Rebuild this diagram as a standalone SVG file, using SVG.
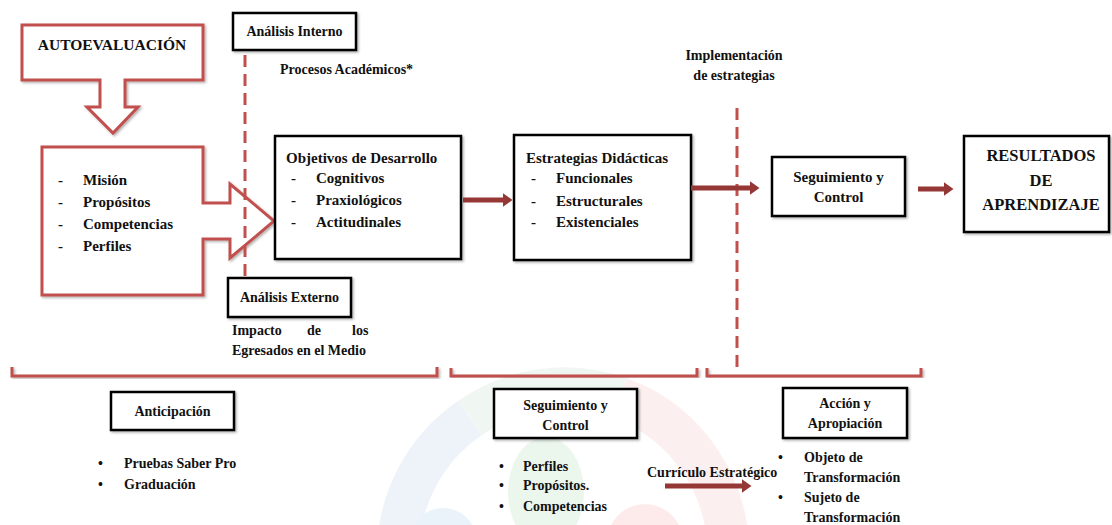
<svg xmlns="http://www.w3.org/2000/svg" width="1112" height="525" viewBox="0 0 1112 525">
<style>
  text { font-family: "Liberation Serif", "Times New Roman", serif; font-weight: bold; fill: #111; }
  .s14 { font-size: 14px; }
  .s15 { font-size: 15px; }
  .big { font-size: 16.5px; }
  .mid { text-anchor: middle; }
  .box { fill: #fff; stroke: #000; stroke-width: 2.5; filter: url(#sh); }
  .red { fill: #fff; stroke: #C0504D; stroke-width: 3; filter: url(#sh); }
  .brk { fill: none; stroke: #C0504D; stroke-width: 3; filter: url(#sh); }
  .dash { fill: none; stroke: #C0504D; stroke-width: 3; stroke-dasharray: 12 7; }
  .arr { fill: none; stroke: #953735; stroke-width: 5; marker-end: url(#ah); }
</style>
<defs>
  <filter id="sh" x="-5%" y="-5%" width="115%" height="130%">
    <feDropShadow dx="1.5" dy="1.5" stdDeviation="1" flood-color="#000" flood-opacity="0.3"/>
  </filter>
  <marker id="ah" viewBox="0 0 10 14" markerWidth="10" markerHeight="14" refX="0.5" refY="7" orient="auto" markerUnits="userSpaceOnUse">
    <path d="M0,0 L10,7 L0,14 Z" fill="#953735"/>
  </marker>
</defs>
<rect width="1112" height="525" fill="#fff"/>

<g id="watermark" opacity="0.5">
  <path d="M398,560 A165,165 0 0 1 470,418" fill="none" stroke="#dfe9f5" stroke-width="42"/>
  <path d="M470,418 A165,165 0 0 1 620,398" fill="none" stroke="#e3f1e7" stroke-width="42"/>
  <path d="M620,398 A165,165 0 0 1 728,560" fill="none" stroke="#fbe1e1" stroke-width="42"/>
  <ellipse cx="546" cy="492" rx="38" ry="55" fill="#d9eedd"/>
  <circle cx="443" cy="542" r="34" fill="#d6e8f4"/>
  <circle cx="645" cy="542" r="38" fill="#fbd8d6"/>
</g>

<g id="autoevaluacion">
  <path class="red" d="M22,25 H203 V80 H125 V107 H138 L113,133 L87,107 H100 V80 H22 Z"/>
  <text x="112" y="50" class="mid" style="font-size:15.5px">AUTOEVALUACIÓN</text>
</g>

<g id="mision">
  <path class="red" d="M42,147 H203 V203 H230 V184 L274,221 L230,258 V239 H203 V295 H42 Z"/>
  <text class="s15" x="58" y="185">-</text><text class="s15" x="83" y="185">Misión</text>
  <text class="s15" x="58" y="207">-</text><text class="s15" x="83" y="207">Propósitos</text>
  <text class="s15" x="58" y="229">-</text><text class="s15" x="83" y="229">Competencias</text>
  <text class="s15" x="58" y="251">-</text><text class="s15" x="83" y="251">Perfiles</text>
</g>

<g id="analisis-interno">
  <rect class="box" x="233" y="13" width="123" height="37"/>
  <text class="s14 mid" x="294.5" y="36">Análisis Interno</text>
</g>
<text id="procesos" class="s14" x="280" y="74">Procesos Académicos*</text>

<g id="objetivos">
  <rect class="box" x="275" y="136" width="186" height="123"/>
  <text class="s15" x="286" y="163">Objetivos de Desarrollo</text>
  <text class="s15" x="291" y="183">-</text><text class="s15" x="316" y="183">Cognitivos</text>
  <text class="s15" x="291" y="205">-</text><text class="s15" x="316" y="205">Praxiológicos</text>
  <text class="s15" x="291" y="227">-</text><text class="s15" x="316" y="227">Actitudinales</text>
</g>

<g id="analisis-externo">
  <rect class="box" x="228" y="278" width="123" height="39"/>
  <text class="s14 mid" x="289.5" y="302">Análisis Externo</text>
</g>
<g id="impacto">
  <text class="s14" y="335"><tspan x="232">Impacto</tspan><tspan x="307">de</tspan><tspan x="352">los</tspan></text>
  <text class="s14" x="232" y="355">Egresados en el Medio</text>
</g>

<g id="estrategias">
  <rect class="box" x="514" y="135" width="177" height="125"/>
  <text class="s15" x="526" y="163">Estrategias Didácticas</text>
  <text class="s15" x="531" y="183">-</text><text class="s15" x="556" y="183">Funcionales</text>
  <text class="s15" x="531" y="206">-</text><text class="s15" x="556" y="206">Estructurales</text>
  <text class="s15" x="531" y="227">-</text><text class="s15" x="556" y="227">Existenciales</text>
</g>

<g id="implementacion">
  <text class="s14 mid" x="734" y="60">Implementación</text>
  <text class="s14 mid" x="734" y="80">de estrategias</text>
</g>

<g id="seguimiento-top">
  <rect class="box" x="772" y="157" width="133" height="59"/>
  <text class="s15 mid" x="838.5" y="182">Seguimiento y</text>
  <text class="s15 mid" x="838.5" y="202">Control</text>
</g>

<g id="resultados">
  <rect class="box" x="964" y="136" width="145" height="96"/>
  <text class="big mid" x="1041" y="161">RESULTADOS</text>
  <text class="big mid" x="1041" y="186">DE</text>
  <text class="big mid" x="1041" y="210">APRENDIZAJE</text>
</g>

<g id="anticipacion">
  <rect class="box" x="111" y="392" width="123" height="38"/>
  <text class="s14 mid" x="172.5" y="416">Anticipación</text>
  <text class="s14" x="98" y="468">•</text><text class="s14" x="124" y="468">Pruebas Saber Pro</text>
  <text class="s14" x="98" y="489">•</text><text class="s14" x="124" y="489">Graduación</text>
</g>

<g id="seguimiento-bottom">
  <rect class="box" x="494" y="389" width="143" height="49"/>
  <text class="s14 mid" x="565.5" y="410">Seguimiento y</text>
  <text class="s14 mid" x="565.5" y="430">Control</text>
  <text class="s14" x="499" y="471">•</text><text class="s14" x="523" y="471">Perfiles</text>
  <text class="s14" x="499" y="490">•</text><text class="s14" x="523" y="490">Propósitos.</text>
  <text class="s14" x="499" y="511">•</text><text class="s14" x="523" y="511">Competencias</text>
</g>

<text id="curriculo" class="s14" x="647" y="477">Currículo Estratégico</text>

<g id="accion">
  <rect class="box" x="783" y="388" width="124" height="50"/>
  <text class="s14 mid" x="845" y="408">Acción y</text>
  <text class="s14 mid" x="845" y="428">Apropiación</text>
  <text class="s14" x="778" y="462">•</text><text class="s14" x="804" y="462">Objeto de</text>
  <text class="s14" x="804" y="482">Transformación</text>
  <text class="s14" x="778" y="502">•</text><text class="s14" x="804" y="502">Sujeto de</text>
  <text class="s14" x="804" y="522">Transformación</text>
</g>

<g id="connectors">
  <path class="dash" d="M245,55 V277"/>
  <path class="dash" d="M737,108 V374"/>
  <path class="brk" d="M12,367 V376 H437 V367"/>
  <path class="brk" d="M451,368 V376 H697 V368"/>
  <path class="brk" d="M707,368 V376 H921 V368"/>
  <path class="arr" d="M463,200 H503"/>
  <path class="arr" d="M691,188 H750"/>
  <path class="arr" d="M918,189 H944"/>
  <path class="arr" d="M665,486 H742"/>
</g>
</svg>
